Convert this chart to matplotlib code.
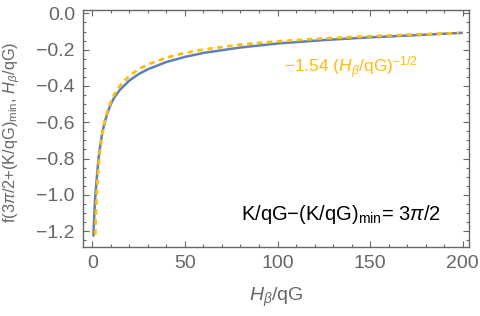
import matplotlib
matplotlib.use("Agg")
import matplotlib.pyplot as plt
from matplotlib.ticker import MultipleLocator

plt.rcParams["font.family"] = ["Liberation Sans", "DejaVu Sans"]
plt.rcParams["mathtext.fontset"] = "custom"
plt.rcParams["mathtext.rm"] = "Liberation Sans"
plt.rcParams["mathtext.it"] = "Liberation Sans:italic"
plt.rcParams["mathtext.bf"] = "Liberation Sans:bold"

# numerical curve f(3pi/2 + (K/qG)_min, H/qG)
h_num = [0.6, 0.8, 1.0, 1.25, 1.5, 2.0, 2.5, 3.0, 3.5, 4.0, 5.0, 6.0, 7.0,
         8.0, 10.0, 12.0, 15.0, 20.0, 25.0, 30.0, 40.0, 50.0, 60.0, 80.0,
         100.0, 125.0, 150.0, 175.0, 200.0]
f_num = [-1.23, -1.18, -1.13, -1.08, -1.03, -0.96, -0.90, -0.84, -0.79,
         -0.75, -0.68, -0.63, -0.59, -0.555, -0.50, -0.462, -0.42, -0.37,
         -0.335, -0.308, -0.268, -0.240, -0.218, -0.188, -0.166, -0.147,
         -0.132, -0.120, -0.107]

# asymptotic fit -1.54 (H/qG)^(-1/2)
h_fit = [1.6, 1.8, 2.0, 2.5, 3.0, 3.5, 4.0, 5.0, 6.0, 7.0, 8.0, 10.0,
         12.0, 15.0, 20.0, 25.0, 30.0, 40.0, 50.0, 60.0, 80.0, 100.0,
         125.0, 150.0, 175.0, 198.0]
f_fit = [-1.22, -1.15, -1.09, -0.975, -0.89, -0.825, -0.77, -0.69, -0.63,
         -0.58, -0.545, -0.487, -0.445, -0.398, -0.344, -0.308, -0.281,
         -0.244, -0.218, -0.199, -0.172, -0.154, -0.138, -0.126, -0.116,
         -0.109]

grey = "#666666"
blue = "#5E81B5"
orange = "#FFBC0F"

fig = plt.figure(figsize=(4.8, 3.16), dpi=100)
ax = fig.add_axes([0.1735, 0.218, 0.8045, 0.750])

ax.plot(h_num, f_num, color=blue, lw=1.8, solid_capstyle="butt")
ax.plot(h_fit, f_fit, color=orange, lw=2.0, dashes=(2.0, 1.6))

ax.set_xlim(-4.86, 203.6)
ax.set_ylim(-1.288, 0.018)

ax.xaxis.set_major_locator(MultipleLocator(50))
ax.xaxis.set_minor_locator(MultipleLocator(10))
ax.yaxis.set_major_locator(MultipleLocator(0.2))
ax.yaxis.set_minor_locator(MultipleLocator(0.05))
ax.yaxis.set_major_formatter(plt.FuncFormatter(
    lambda v, p: f"{v:.1f}".replace("-", "\u2212") if abs(v) > 1e-9 else "0.0"))

for s in ax.spines.values():
    s.set_color(grey)
    s.set_linewidth(1.0)
ax.tick_params(which="both", direction="in", top=True, right=True,
               color=grey, width=0.8)
ax.tick_params(which="major", length=4.5, labelsize=14, labelcolor=grey,
               pad=6)
ax.tick_params(which="minor", length=2.5)

ax.set_xlabel(r"$\it{H}_{\beta}$/qG", color=grey, fontsize=14)
ax.xaxis.set_label_coords(0.50, -0.165)
ax.set_ylabel(r"f(3$\it{\pi}$/2+(K/qG)$_{\rm min}$, $\it{H}_{\beta}$/qG)",
              color=grey, fontsize=11.8)
ax.yaxis.set_label_coords(-0.158, 0.485)

ax.text(139.7, -0.301, "\u22121.54 ($\\it{H}_{\\beta}$/qG)$^{-1/2}$",
        color=orange, fontsize=12.5, ha="center", va="center")
ax.text(134.2, -1.111,
        "K/qG\u2212(K/qG)$_{\\rm min}$= 3$\\it{\\pi}$/2",
        color="black", fontsize=14.5, ha="center", va="center")

fig.savefig("out.png", dpi=100)
